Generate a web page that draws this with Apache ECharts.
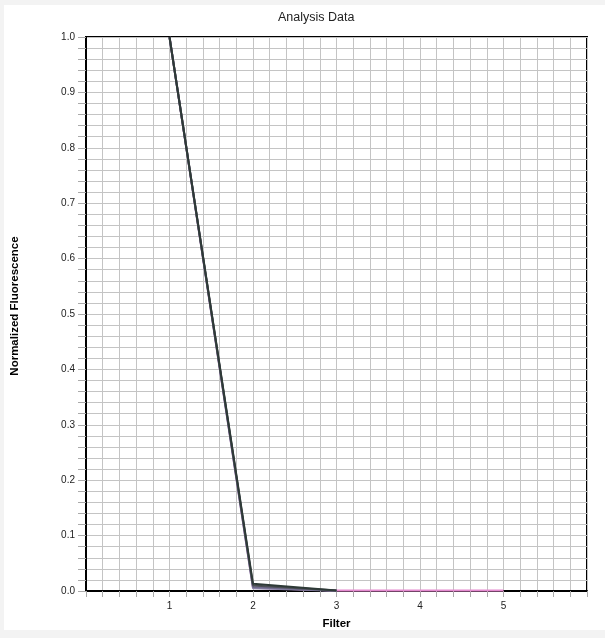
<!DOCTYPE html>
<html>
<head>
<meta charset="utf-8">
<script src="https://cdn.jsdelivr.net/npm/echarts@6/dist/echarts.min.js"></script>
<style>
  html, body { margin: 0; padding: 0; background: #fff; }
  #chart { width: 605px; height: 638px; }
</style>
</head>
<body>
<div id="chart"></div>
<script>
// filter positions along x
var filters = [1, 2, 3, 4, 5];
// normalized fluorescence for each well
var wellA = [1.0, 0.013, 0.001];
var wellB = [1.0, 0.010, 0.0008];
var wellC = [1.0, 0.007, 0.0005];
var wellD = [1.0, 0.005, 0.0003];
var wellPink = [1.0, 0.006, 0.001, 0.001, 0.001];

var seriesNames = ['A', 'B', 'C', 'D', 'E'];
var seriesData = [wellPink, wellD, wellC, wellB, wellA];
var seriesColors = ['#e58ad0', '#8c84a8', '#6f6a8c', '#4c4f55', '#2e3a37'];

function pairs(vals) {
    return vals.map(function (v, i) { return [filters[i], v]; });
}

var chart = echarts.init(document.getElementById('chart'));
var font = 'Arial, "Liberation Sans", sans-serif';

chart.setOption({
    animation: false,
    backgroundColor: '#fff',
    title: {
        text: 'Analysis Data',
        left: 273,
        top: 6,
        textStyle: { fontSize: 12.5, fontWeight: 'normal', color: '#222', fontFamily: font }
    },
    graphic: [
        { type: 'rect', shape: { x: 0, y: 0, width: 605, height: 5 }, style: { fill: '#f3f3f3' }, silent: true },
        { type: 'rect', shape: { x: 0, y: 0, width: 4, height: 638 }, style: { fill: '#f3f3f3' }, silent: true },
        { type: 'rect', shape: { x: 0, y: 630, width: 605, height: 8 }, style: { fill: '#f3f3f3' }, silent: true },
        // y axis title, placed a little above the plot middle as in the original
        {
            type: 'text', x: 15, y: 306, rotation: Math.PI / 2,
            style: {
                text: 'Normalized Fluorescence', fill: '#000',
                font: 'bold 11.5px Arial, "Liberation Sans", sans-serif',
                textAlign: 'center', textVerticalAlign: 'middle'
            },
            silent: true
        }
    ],
    grid: {
        left: 86, right: 18, top: 37, bottom: 47,
        show: true, borderColor: '#000', borderWidth: 2, backgroundColor: '#fff'
    },
    xAxis: {
        type: 'value',
        min: 0, max: 6, interval: 0.2,
        name: 'Filter',
        nameLocation: 'middle',
        nameGap: 27,
        nameTextStyle: { fontSize: 11.5, fontWeight: 'bold', color: '#000', fontFamily: font },
        axisLine: { lineStyle: { color: '#000', width: 2 } },
        axisTick: { length: 6, lineStyle: { color: '#aaa' } },
        axisLabel: {
            fontSize: 10, color: '#222', fontFamily: font, margin: 10,
            formatter: function (v) {
                var r = Math.round(v * 5);
                if (r % 5 === 0 && v > 0.5 && v < 5.5) return String(Math.round(v));
                return '';
            }
        },
        splitLine: { show: true, lineStyle: { color: '#c4c4c4', width: 1 } }
    },
    yAxis: {
        type: 'value',
        min: 0, max: 1, interval: 0.02,
        axisLine: { show: true, lineStyle: { color: '#000', width: 2 } },
        axisTick: { show: true, length: 8, lineStyle: { color: '#aaa' } },
        axisLabel: {
            fontSize: 10, color: '#222', fontFamily: font, margin: 11,
            formatter: function (v) {
                var r = Math.round(v * 50);
                if (r % 5 === 0) return (r / 50).toFixed(1);
                return '';
            }
        },
        splitLine: { show: true, lineStyle: { color: '#c4c4c4', width: 1 } }
    },
    series: seriesData.map(function (vals, i) {
        return {
            name: seriesNames[i],
            type: 'line',
            data: pairs(vals),
            symbol: 'none',
            clip: true,
            lineStyle: { color: seriesColors[i], width: 2 }
        };
    })
});
</script>
</body>
</html>
